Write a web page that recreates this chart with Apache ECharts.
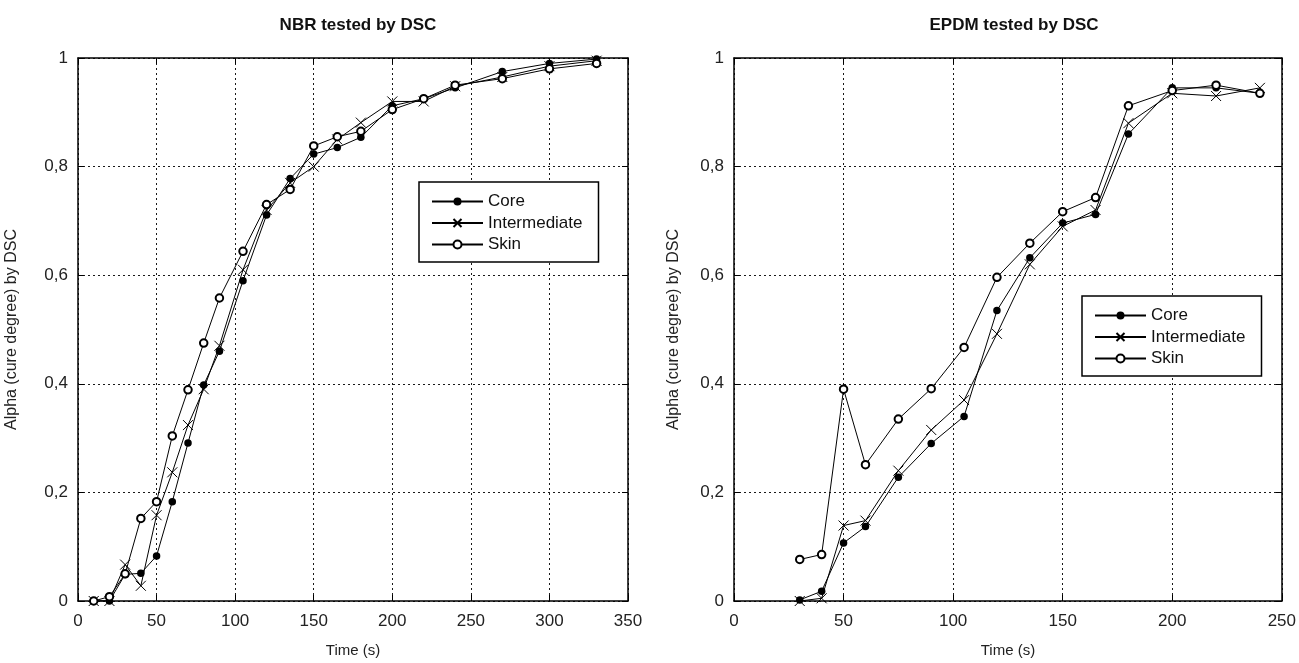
<!DOCTYPE html>
<html>
<head>
<meta charset="utf-8">
<script src="https://cdn.jsdelivr.net/npm/echarts@6/dist/echarts.min.js"></script>
<style>
html,body{margin:0;padding:0;background:#fff;}
#c{width:1299px;height:663px;}
</style>
</head>
<body>
<div id="c"></div>
<script>
// ---- Data ----
const nbrTime = [10,20,30,40,50,60,70,80,90,105,120,135,150,165,180,200,220,240,270,300,330];
const nbrCore = [0,0,0.049,0.051,0.083,0.183,0.291,0.398,0.46,0.59,0.711,0.778,0.823,0.835,0.854,0.912,0.925,0.945,0.975,0.99,0.998];
const nbrInter = [0,0,0.067,0.028,0.158,0.237,0.324,0.39,0.47,0.61,0.72,0.77,0.80,0.85,0.881,0.92,0.92,0.948,0.965,0.985,0.995];
const nbrSkin = [0,0.008,0.05,0.152,0.183,0.304,0.389,0.475,0.558,0.644,0.730,0.758,0.838,0.855,0.865,0.905,0.925,0.95,0.962,0.98,0.99];

const epdmTime = [30,40,50,60,75,90,105,120,135,150,165,180,200,220,240];
const epdmCore = [0.002,0.018,0.107,0.137,0.228,0.29,0.34,0.535,0.632,0.696,0.712,0.86,0.945,0.945,0.935];
const epdmInter = [0.0,0.005,0.139,0.148,0.24,0.315,0.37,0.492,0.62,0.69,0.72,0.88,0.935,0.93,0.945];
const epdmSkin = [0.0765,0.0856,0.390,0.251,0.335,0.391,0.467,0.596,0.659,0.717,0.743,0.912,0.94,0.95,0.935];

const titles = ['NBR tested by DSC', 'EPDM tested by DSC'];
const seriesNames = ['Core', 'Intermediate', 'Skin'];
const xLabel = 'Time (s)';
const yLabel = 'Alpha (cure degree) by DSC';

// ---- Chart ----
const FONT = 'Liberation Sans, Arial, sans-serif';
const chart = echarts.init(document.getElementById('c'), null, {renderer: 'canvas'});
const zip = (xs, ys) => xs.map((x, i) => [x, ys[i]]);
const fmt = v => String(v).replace('.', ',');
const xSym = 'path://M0,0L10,10M10,0L0,10';

const grids = [
  {left: 78, right: 1299 - 628, top: 58, bottom: 663 - 607},
  {left: 734, right: 1299 - 1285, top: 58, bottom: 663 - 607}
];
const xMax = [350, 250];

const gridLine = {show: true, lineStyle: {color: '#000', type: [2, 3], width: 1, opacity: 0.9}};
const axLine = {show: true, onZero: false, lineStyle: {color: '#000', width: 1.5}};
const ticks = {show: true, inside: true, length: 6, lineStyle: {color: '#000', width: 1}};

const xAxes = [], yAxes = [];
[0, 1].forEach(g => {
  xAxes.push({
    gridIndex: g, type: 'value', min: 0, max: xMax[g], interval: 50, position: 'bottom',
    axisLine: axLine, axisTick: ticks, splitLine: gridLine,
    axisLabel: {color: '#222', fontSize: 17, fontFamily: FONT, margin: 12},
    name: xLabel, nameLocation: 'middle', nameGap: 42,
    nameTextStyle: {color: '#222', fontSize: 15, fontFamily: FONT}
  });
  xAxes.push({
    gridIndex: g, type: 'value', min: 0, max: xMax[g], interval: 50, position: 'top',
    axisLine: axLine, axisTick: ticks, splitLine: {show: false}, axisLabel: {show: false}
  });
  yAxes.push({
    gridIndex: g, type: 'value', min: 0, max: 1, interval: 0.2, position: 'left',
    axisLine: axLine, axisTick: ticks, splitLine: gridLine,
    axisLabel: {color: '#222', fontSize: 17, fontFamily: FONT, margin: 10, formatter: fmt},
    name: yLabel, nameLocation: 'middle', nameGap: g === 0 ? 58 : 52,
    nameTextStyle: {color: '#222', fontSize: 16, fontFamily: FONT}
  });
  yAxes.push({
    gridIndex: g, type: 'value', min: 0, max: 1, interval: 0.2, position: 'right',
    axisLine: axLine, axisTick: ticks, splitLine: {show: false}, axisLabel: {show: false}
  });
});

function mk(name, g, xs, ys) {
  const base = {
    name, type: 'line', xAxisIndex: g * 2, yAxisIndex: g * 2,
    data: zip(xs, ys), showSymbol: true, animation: false,
    lineStyle: {color: '#000', width: 1},
    emphasis: {disabled: true}
  };
  if (name === 'Core') {
    base.symbol = 'circle'; base.symbolSize = 7.5;
    base.itemStyle = {color: '#000'};
  } else if (name === 'Intermediate') {
    base.symbol = xSym; base.symbolSize = 10;
    base.itemStyle = {color: '#000', borderColor: '#000', borderWidth: 1};
  } else {
    base.symbol = 'emptyCircle'; base.symbolSize = 7.5;
    base.itemStyle = {color: '#000', borderWidth: 1};
  }
  return base;
}

const series = [
  mk('Core', 0, nbrTime, nbrCore),
  mk('Intermediate', 0, nbrTime, nbrInter),
  mk('Skin', 0, nbrTime, nbrSkin),
  mk('Core', 1, epdmTime, epdmCore),
  mk('Intermediate', 1, epdmTime, epdmInter),
  mk('Skin', 1, epdmTime, epdmSkin)
];

const legendBase = {
  orient: 'vertical', data: seriesNames, itemWidth: 51, itemHeight: 10, itemGap: 4.5,
  backgroundColor: '#fff', borderColor: '#000', borderWidth: 1.5, borderRadius: 0,
  textStyle: {color: '#111', fontSize: 17, fontFamily: FONT, lineHeight: 17},
  selectedMode: false
};

chart.setOption({
  backgroundColor: '#fff',
  animation: false,
  title: [
    {text: titles[0], left: 353, top: 12, textAlign: 'center',
     textStyle: {fontSize: 17, fontWeight: 'bold', color: '#111', fontFamily: FONT}},
    {text: titles[1], left: 1009, top: 12, textAlign: 'center',
     textStyle: {fontSize: 17, fontWeight: 'bold', color: '#111', fontFamily: FONT}}
  ],
  grid: grids,
  xAxis: xAxes,
  yAxis: yAxes,
  legend: [
    Object.assign({}, legendBase, {left: 419, top: 182, padding: [11, 16, 9, 12]}),
    Object.assign({}, legendBase, {left: 1082, top: 296, padding: [11, 16, 9, 12]})
  ],
  series
});
</script>
</body>
</html>
